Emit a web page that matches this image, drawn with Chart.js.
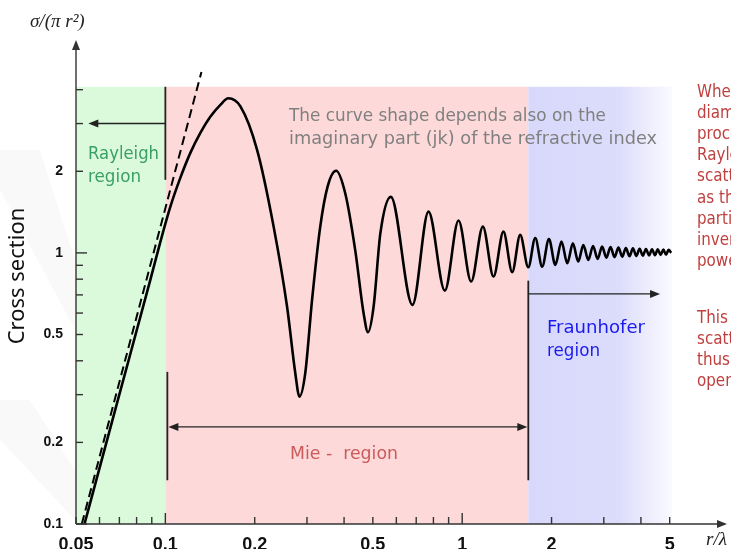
<!DOCTYPE html>
<html lang="en">
<head>
<meta charset="UTF-8">
<title>Scattering cross section</title>
<script src="https://cdn.jsdelivr.net/npm/chart.js"></script>
<style>
  html, body { margin: 0; padding: 0; background: #fff; }
  #wrap { width: 731px; height: 549px; }
</style>
</head>
<body>
<div id="wrap"><canvas id="myChart" width="731" height="549"></canvas></div>
<script>
// curve: r/lambda and sigma/(pi r^2)
const sizeRatio = [
  0.0534, 0.0692, 0.089, 0.0962, 0.1039, 0.1123, 0.1214, 0.1312, 0.1417, 0.1532,
  0.163, 0.179, 0.2037, 0.2316, 0.257, 0.274, 0.283, 0.296, 0.312, 0.3325,
  0.352, 0.376, 0.4036, 0.436, 0.4654, 0.4815, 0.503, 0.53, 0.575, 0.68,
  0.77, 0.874, 0.972, 1.072, 1.174, 1.275, 1.377, 1.474, 1.568, 1.67,
  1.762, 1.86, 1.96, 2.06, 2.16, 2.26, 2.36, 2.46, 2.56, 2.66,
  2.76, 2.86, 2.96, 3.06, 3.16, 3.26, 3.36, 3.46, 3.56, 3.66,
  3.76, 3.86, 3.96, 4.06, 4.16, 4.26, 4.36, 4.46, 4.56, 4.66,
  4.76, 4.86, 4.96, 5.06
];
const crossSection = [
  0.1, 0.287, 0.795, 1.098, 1.478, 1.891, 2.339, 2.772, 3.177, 3.517,
  3.72, 3.47, 2.4, 1.25, 0.634, 0.36, 0.295, 0.36, 0.67, 1.25,
  1.757, 2.01, 1.66, 1.026, 0.599, 0.51, 0.634, 1.18, 1.61, 0.643,
  1.42, 0.726, 1.316, 0.784, 1.25, 0.818, 1.198, 0.849, 1.165, 0.885,
  1.135, 0.89, 1.126, 0.903, 1.101, 0.916, 1.086, 0.929, 1.07, 0.942,
  1.061, 0.95, 1.055, 0.961, 1.05, 0.965, 1.046, 0.969, 1.042, 0.972,
  1.039, 0.975, 1.036, 0.977, 1.034, 0.979, 1.032, 0.981, 1.03, 0.983,
  1.028, 0.985, 1.026, 1.0
];
// dashed Rayleigh asymptote
const asymX = [0.0523, 0.1323];
const asymY = [0.1, 4.65];
// region borders (r/lambda) and top of the shading
const regionEdges = [0.05, 0.1, 1.67, 5.1];
const regionTop = 4.1;
const xTicks = [0.05, 0.06, 0.07, 0.08, 0.09, 0.1, 0.2, 0.3, 0.4, 0.5, 0.6, 0.7, 0.8, 0.9, 1, 2, 3, 4, 5];
const xLabels = [0.05, 0.1, 0.2, 0.5, 1, 2, 5];
const yTicks = [0.1, 0.2, 0.3, 0.4, 0.5, 0.6, 0.7, 0.8, 0.9, 1, 2, 3, 4];
const yLabels = [0.1, 0.2, 0.5, 1, 2];

const annFont = '"DejaVu Sans"';

function arrowHead(ctx, x, y, dir) {
  ctx.beginPath();
  if (dir === 'l') { ctx.moveTo(x, y); ctx.lineTo(x + 10, y - 4); ctx.lineTo(x + 10, y + 4); }
  if (dir === 'r') { ctx.moveTo(x, y); ctx.lineTo(x - 10, y - 4); ctx.lineTo(x - 10, y + 4); }
  if (dir === 'u') { ctx.moveTo(x, y); ctx.lineTo(x - 4, y + 10); ctx.lineTo(x + 4, y + 10); }
  ctx.closePath();
  ctx.fill();
}

function line(ctx, x1, y1, x2, y2) {
  ctx.beginPath(); ctx.moveTo(x1, y1); ctx.lineTo(x2, y2); ctx.stroke();
}

// draw text squeezed/stretched to a given width (k given -> fixed factor)
function fitText(ctx, txt, x, y, w, size, color, k) {
  ctx.save();
  ctx.font = size + 'px ' + annFont;
  ctx.fillStyle = color;
  ctx.textBaseline = 'middle';
  if (!k) {
    const m = ctx.measureText(txt).width;
    k = Math.max(0.8, Math.min(1.3, w / m));
  }
  ctx.translate(x, y);
  ctx.scale(k, 1);
  ctx.fillText(txt, 0, 0);
  ctx.restore();
}

const deco = {
  id: 'deco',
  beforeDraw(chart) {
    // faint slide background bands on the left
    const c = chart.ctx;
    c.save();
    c.fillStyle = 'rgba(0,0,0,0.025)';
    c.beginPath(); c.moveTo(0, 150); c.lineTo(40, 150); c.lineTo(75, 260); c.lineTo(75, 330); c.lineTo(0, 190); c.closePath(); c.fill();
    c.beginPath(); c.moveTo(0, 400); c.lineTo(30, 400); c.lineTo(75, 470); c.lineTo(75, 520); c.lineTo(0, 440); c.closePath(); c.fill();
    c.restore();
  },
  beforeDatasetsDraw(chart) {
    const { ctx, scales: { x, y } } = chart;
    const top = y.getPixelForValue(regionTop), bot = y.bottom;
    const px = regionEdges.map(v => x.getPixelForValue(v));
    ctx.save();
    ctx.fillStyle = '#dbfadb';
    ctx.fillRect(px[0], top, px[1] - px[0], bot - top);
    ctx.fillStyle = '#fdd9d9';
    ctx.fillRect(px[1], top, px[2] - px[1], bot - top);
    const g = ctx.createLinearGradient(px[2], 0, px[3], 0);
    g.addColorStop(0, '#d8d8fb');
    g.addColorStop(0.62, '#dcdcfb');
    g.addColorStop(1, '#fafaff');
    ctx.fillStyle = g;
    ctx.fillRect(px[2], top, px[3] - px[2], bot - top);
    ctx.restore();
  },
  afterDraw(chart) {
    const { ctx, scales: { x, y } } = chart;
    const x0 = x.left, y0 = y.bottom;
    ctx.save();
    ctx.strokeStyle = '#333';
    ctx.fillStyle = '#333';
    ctx.lineWidth = 1.4;

    // axes with arrows
    line(ctx, x0, y0, x0, y.top + 2);
    arrowHead(ctx, x0, y.top, 'u');
    line(ctx, x0, y0, x.right - 2, y0);
    arrowHead(ctx, x.right, y0, 'r');

    // tick marks, drawn inside the plot
    xTicks.forEach(v => {
      const p = x.getPixelForValue(v);
      const len = (v === 0.1 || v === 1) ? 11 : 7;
      line(ctx, p, y0, p, y0 - len);
    });
    yTicks.forEach(v => {
      const p = y.getPixelForValue(v);
      const len = (v === 0.1 || v === 1) ? 11 : 7;
      line(ctx, x0, p, x0 + len, p);
    });

    // region markers and arrows
    ctx.strokeStyle = '#222';
    ctx.fillStyle = '#222';
    ctx.lineWidth = 1.8;
    const xa = x.getPixelForValue(0.1), xb = x.getPixelForValue(1.67);
    line(ctx, xa, y.getPixelForValue(regionTop), xa, y.getPixelForValue(1.86));
    const yr = y.getPixelForValue(3.0);
    ctx.lineWidth = 1.4;
    line(ctx, xa, yr, x.getPixelForValue(0.055) + 4, yr);
    arrowHead(ctx, x.getPixelForValue(0.055), yr, 'l');

    ctx.lineWidth = 1.8;
    line(ctx, xa + 2, y.getPixelForValue(0.364), xa + 2, y.getPixelForValue(0.145));
    line(ctx, xb, y.getPixelForValue(0.79), xb, y.getPixelForValue(0.145));
    const ym = y.getPixelForValue(0.228);
    ctx.lineWidth = 1.3;
    line(ctx, xa + 6, ym, xb - 4, ym);
    arrowHead(ctx, xa + 3, ym, 'l');
    arrowHead(ctx, xb - 1, ym, 'r');

    const yf = y.getPixelForValue(0.706);
    line(ctx, xb, yf, x.getPixelForValue(4.64) - 4, yf);
    arrowHead(ctx, x.getPixelForValue(4.64), yf, 'r');

    // axis titles
    ctx.fillStyle = '#222';
    ctx.font = 'italic 19px "Liberation Serif"';
    ctx.textBaseline = 'middle';
    ctx.textAlign = 'left';
    ctx.fillText('\u03c3/(\u03c0 r\u00b2)', 30, 22);
    ctx.fillText('r/\u03bb', 706, 540);

    ctx.save();
    ctx.translate(18, 276);
    ctx.rotate(-Math.PI / 2);
    ctx.font = '22px "Noto Sans"';
    ctx.fillStyle = '#111';
    ctx.textAlign = 'center';
    ctx.fillText('Cross section', 0, 0);
    ctx.restore();

    // annotations
    fitText(ctx, 'The curve shape depends also on the', 289, 117, 317, 17, '#808080');
    fitText(ctx, 'imaginary part (jk) of the refractive index', 289, 140, 368, 17, '#808080');
    fitText(ctx, 'Rayleigh', 88, 155, 71, 17, '#3a9f63');
    fitText(ctx, 'region', 88, 178, 53, 17, '#3a9f63');
    fitText(ctx, 'Fraunhofer', 547, 329, 98, 17, '#1a1aee');
    fitText(ctx, 'region', 547, 352, 53, 17, '#1a1aee');
    fitText(ctx, 'Mie -  region', 290, 455, 108, 17, '#cc5a5a');

    const side = ['When the', 'diameter', 'process', 'Rayleigh', 'scattering', 'as the', 'particle', 'inverse', 'power'];
    side.forEach((t, i) => fitText(ctx, t, 697, 92 + i * 21.2, 0, 18, '#c0403f', 0.84));
    const side2 = ['This', 'scattering', 'thus', 'operates'];
    side2.forEach((t, i) => fitText(ctx, t, 697, 318 + i * 21.2, 0, 18, '#c0403f', 0.84));
    ctx.restore();
  }
};

const ctx = document.getElementById('myChart');
const myChart = new Chart(ctx, {
  type: 'line',
  data: {
    datasets: [{
      data: sizeRatio.map((v, i) => ({ x: v, y: crossSection[i] })),
      borderColor: '#000',
      borderWidth: 2.6,
      pointRadius: 0,
      cubicInterpolationMode: 'monotone',
      fill: false
    }, {
      data: asymX.map((v, i) => ({ x: v, y: asymY[i] })),
      borderColor: '#000',
      borderWidth: 2,
      borderDash: [9, 5],
      pointRadius: 0,
      fill: false
    }]
  },
  options: {
    responsive: false,
    animation: false,
    devicePixelRatio: 1,
    layout: { padding: { top: 40, right: 4, left: 0, bottom: 0 } },
    plugins: { legend: { display: false }, tooltip: { enabled: false } },
    scales: {
      x: {
        type: 'logarithmic',
        min: 0.05,
        max: 7.8,
        grid: { display: false, drawTicks: false },
        border: { display: false },
        afterBuildTicks: a => { a.ticks = xTicks.map(v => ({ value: v })); },
        afterFit: s => { s.height = 25; },
        ticks: {
          autoSkip: false, maxRotation: 0, minRotation: 0, padding: 10,
          color: '#111',
          font: { family: '"Liberation Sans"', size: 18, weight: 'bold' },
          callback: v => xLabels.includes(v) ? String(v) : ''
        }
      },
      y: {
        type: 'logarithmic',
        min: 0.1,
        max: 6.1,
        grid: { display: false, drawTicks: false },
        border: { display: false },
        afterBuildTicks: a => { a.ticks = yTicks.map(v => ({ value: v })); },
        afterFit: s => { s.width = 76; },
        ticks: {
          autoSkip: false, padding: 13,
          color: '#111',
          font: { family: '"Liberation Sans"', size: 14, weight: 'bold' },
          callback: v => yLabels.includes(v) ? String(v) : ''
        }
      }
    }
  },
  plugins: [deco]
});
</script>
</body>
</html>
